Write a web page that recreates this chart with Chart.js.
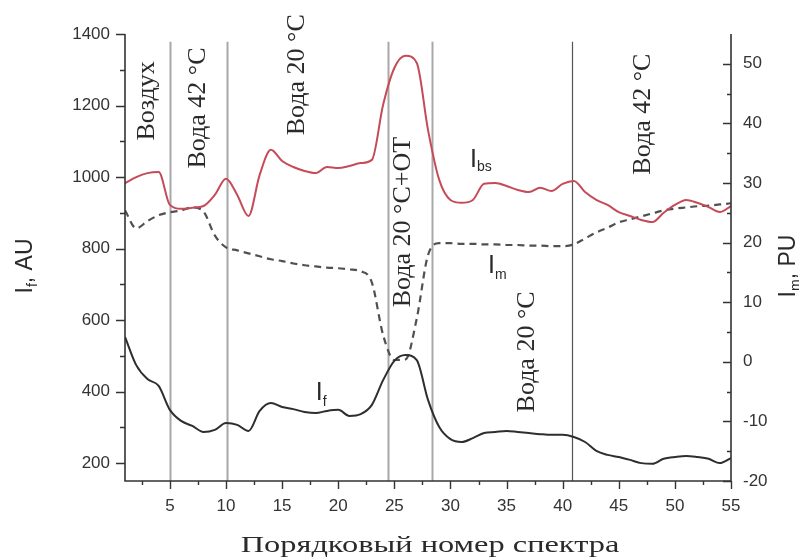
<!DOCTYPE html>
<html><head><meta charset="utf-8">
<script src="https://cdn.jsdelivr.net/npm/chart.js@4.4.1/dist/chart.umd.min.js"></script>
<style>html,body{margin:0;padding:0;background:#fff}#wrap{width:799px;height:560px}</style>
</head><body><div id="wrap"><canvas id="c" width="799" height="560"></canvas></div>
<script>
// ---- data ----
const spectrumNo = [1,2,3,4,5,6,7,8,9,10,11,12,13,14,15,16,17,18,19,20,21,22,23,24,25,26,27,28,29,30,31,32,33,34,35,36,37,38,39,40,41,42,43,44,45,46,47,48,49,50,51,52,53,54,55];
const If = [553,474,435,416,349,318,304,287,293,312,307,290,346,368,357,351,343,340,346,349,332,337,363,432,486,502,488,377,301,267,259,270,284,287,290,287,284,281,279,279,273,259,234,223,217,209,200,198,212,217,220,217,212,200,214];
const Ibs = [983,1000,1011,1014,922,911,914,919,950,995,950,891,1006,1076,1045,1028,1017,1011,1028,1025,1031,1039,1048,1202,1305,1339,1319,1132,992,936,928,936,981,983,975,964,958,970,961,981,989,958,936,922,902,891,880,874,900,922,936,928,916,902,919];
const Im = [25.4,22.4,23.6,24.6,25.1,25.4,25.9,25.2,21.2,19.2,18.7,18.2,17.7,17.2,16.9,16.5,16.2,16.0,15.8,15.7,15.5,15.2,13.3,4.5,0.3,0.4,7.3,17.9,19.9,19.9,19.8,19.8,19.7,19.7,19.6,19.6,19.5,19.5,19.4,19.4,19.7,20.7,21.7,22.5,23.4,23.9,24.4,24.9,25.4,25.7,25.9,26.1,26.2,26.4,26.6];
const xTicks = [5,10,15,20,25,30,35,40,45,50,55];
const leftTicks = [200,400,600,800,1000,1200,1400];
const rightTicks = [-20,-10,0,10,20,30,40,50];
const regionBounds = [5, 10.08, 24.44, 28.4, 40.83];
const regionLabels = ['Воздух','Вода 42 °C','Вода 20 °C','Вода 20 °C+OT','Вода 20 °C','Вода 42 °C'];
const regionLabelX = [2.96, 7.5, 16.3, 25.8, 36.8, 47.2];
const regionLabelY = [1213, 1193, 1286, 874, 511, 1176];
const xTitle = 'Порядковый номер спектра';

// ---- styles ----
const RED = '#c64b58', BLACK = '#2e2e2e', DASH = '#505050', TXT = '#2a2a2a';
const SANS = '"Liberation Sans", Arial, sans-serif';
const SERIF = '"Liberation Serif", "Times New Roman", serif';

const pts = arr => spectrumNo.map((n,i)=>({x:n, y:arr[i]}));

function drawRich(ctx, parts, cx, cy, rot, align){
  ctx.save();
  ctx.translate(cx, cy);
  if (rot) ctx.rotate(rot);
  let w = 0;
  parts.forEach(p=>{ ctx.font = p.f; w += ctx.measureText(p.t).width; });
  let x = align==='left' ? 0 : -w/2;
  ctx.textBaseline = 'alphabetic';
  ctx.textAlign = 'left';
  parts.forEach(p=>{ ctx.font = p.f; ctx.fillStyle = TXT; ctx.fillText(p.t, x, p.dy||0); x += ctx.measureText(p.t).width; });
  ctx.restore();
}

const decor = {
  id:'decor',
  beforeDatasetsDraw(chart){
    const {ctx, scales:{x, y}} = chart;
    ctx.save();
    regionBounds.forEach((v,i)=>{
      const px = Math.round(x.getPixelForValue(v))+0.5;
      ctx.strokeStyle = i===4 ? '#555' : '#a8a8a8';
      ctx.lineWidth = i===4 ? 1.2 : 2;
      ctx.beginPath();
      ctx.moveTo(px, y.getPixelForValue(1378));
      ctx.lineTo(px, y.bottom);
      ctx.stroke();
    });
    ctx.restore();
  },
  afterDatasetsDraw(chart){
    const {ctx, scales:{x, y}} = chart;
    ctx.save();
    ctx.fillStyle = TXT;
    ctx.font = '26px ' + SERIF;
    ctx.textAlign = 'center';
    ctx.textBaseline = 'middle';
    regionLabels.forEach((t,i)=>{
      ctx.save();
      ctx.translate(x.getPixelForValue(regionLabelX[i]), y.getPixelForValue(regionLabelY[i]));
      ctx.rotate(-Math.PI/2);
      ctx.fillText(t, 0, 0);
      ctx.restore();
    });
    ctx.restore();
    const big = '25px ' + SANS, sub = '14px ' + SANS;
    drawRich(ctx, [{t:'I',f:big},{t:'bs',f:sub,dy:4}], x.getPixelForValue(31.74), y.getPixelForValue(1028), 0, 'left');
    drawRich(ctx, [{t:'I',f:big},{t:'m',f:sub,dy:6}], x.getPixelForValue(33.35), y.getPixelForValue(732), 0, 'left');
    drawRich(ctx, [{t:'I',f:big},{t:'f',f:sub,dy:6}], x.getPixelForValue(18.0), y.getPixelForValue(377), 0, 'left');
  },
  afterDraw(chart){
    const {ctx, chartArea:a, scales:{x, y, y2}} = chart;
    ctx.save();
    ctx.strokeStyle = '#333';
    ctx.lineWidth = 1.6;
    ctx.beginPath();
    ctx.moveTo(a.left, a.top); ctx.lineTo(a.left, a.bottom); ctx.lineTo(a.right, a.bottom); ctx.lineTo(a.right, a.top);
    ctx.stroke();
    ctx.lineWidth = 1.4;
    ctx.beginPath();
    for (let v=200; v<=1400; v+=100){
      const p = Math.round(y.getPixelForValue(v))+0.5;
      const L = v%200===0 ? 9 : 5;
      ctx.moveTo(a.left, p); ctx.lineTo(a.left-L, p);
    }
    for (let v=-20; v<=50; v+=5){
      const p = Math.round(y2.getPixelForValue(v))+0.5;
      const L = v%10===0 ? 8 : 4;
      ctx.moveTo(a.right, p); ctx.lineTo(a.right-L, p);
    }
    for (let v=2.5; v<=55; v+=2.5){
      const p = Math.round(x.getPixelForValue(v))+0.5;
      const L = v%5===0 ? 8 : 4;
      ctx.moveTo(p, a.bottom); ctx.lineTo(p, a.bottom+L);
    }
    ctx.stroke();
    ctx.restore();
    const big = '23px ' + SANS, sub = '14px ' + SANS;
    drawRich(ctx, [{t:'I',f:big},{t:'f',f:sub,dy:5},{t:', AU',f:big}], 32, 266, -Math.PI/2);
    drawRich(ctx, [{t:'I',f:big},{t:'m',f:sub,dy:5},{t:', PU',f:big}], 795, 266, -Math.PI/2);
    ctx.save();
    ctx.font = '24px ' + SERIF;
    ctx.fillStyle = TXT;
    ctx.textAlign = 'center';
    ctx.textBaseline = 'alphabetic';
    ctx.translate((a.left+a.right)/2 + 2, 552);
    ctx.scale(1.35, 1);
    ctx.fillText(xTitle, 0, 0);
    ctx.restore();
  }
};

const tickFont = {family: SANS, size: 17};
const plain = v => String(v);
new Chart(document.getElementById('c'), {
  type: 'line',
  data: {
    datasets: [
      {label:'I_bs', data: pts(Ibs), yAxisID:'y', borderColor: RED, borderWidth: 2, pointRadius: 0, cubicInterpolationMode:'monotone', fill:false},
      {label:'I_f', data: pts(If), yAxisID:'y', borderColor: BLACK, borderWidth: 2, pointRadius: 0, cubicInterpolationMode:'monotone', fill:false},
      {label:'I_m', data: pts(Im), yAxisID:'y2', borderColor: DASH, borderWidth: 2.2, borderDash:[7,5], pointRadius: 0, cubicInterpolationMode:'monotone', fill:false}
    ]
  },
  options: {
    responsive: false,
    animation: false,
    devicePixelRatio: 1,
    layout: {padding: {top: 34, left: 0, right: 0, bottom: 0}},
    plugins: {legend: {display:false}, tooltip: {enabled:false}},
    scales: {
      x: {
        type:'linear', min:1, max:55, position:'bottom',
        grid:{display:false, drawTicks:false}, border:{display:false},
        ticks:{font:tickFont, color:'#333', padding:15, autoSkip:false, maxRotation:0, callback: plain},
        afterBuildTicks: s => { s.ticks = xTicks.map(v=>({value:v})); },
        afterFit: s => { s.height = 79; }
      },
      y: {
        type:'linear', min:150, max:1400, position:'left',
        grid:{display:false, drawTicks:false}, border:{display:false},
        ticks:{font:tickFont, color:'#333', padding:15, callback: plain},
        afterBuildTicks: s => { s.ticks = leftTicks.map(v=>({value:v})); },
        afterFit: s => { s.width = 125; }
      },
      y2: {
        type:'linear', min:-20, max:55, position:'right',
        grid:{display:false, drawTicks:false}, border:{display:false},
        ticks:{font:tickFont, color:'#333', padding:12, callback: plain},
        afterBuildTicks: s => { s.ticks = rightTicks.map(v=>({value:v})); },
        afterFit: s => { s.width = 68; }
      }
    }
  },
  plugins: [decor]
});
</script>
</body></html>
